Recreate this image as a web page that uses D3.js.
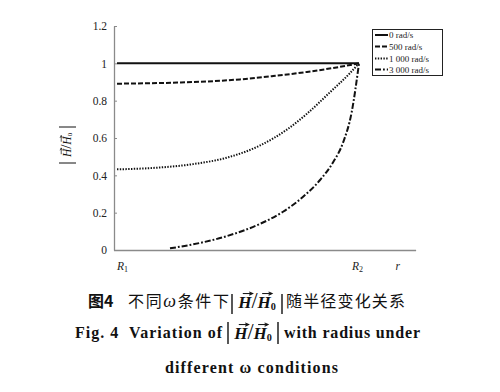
<!DOCTYPE html>
<html><head><meta charset="utf-8">
<script src="https://cdn.jsdelivr.net/npm/d3@7/dist/d3.min.js"></script>
<style>body{margin:0;background:#fff}svg{display:block}text{white-space:pre}</style>
</head><body>
<svg id="c" width="500" height="392"></svg>
<script>
// ---- data (r normalised: R1 = 0, R2 = 1) ----
const seriesNames = ["0 rad/s", "500 rad/s", "1 000 rad/s", "3 000 rad/s"];
const r0 = [0, 1];
const v0 = [1, 1];
const r500 = [0, 0.25, 0.508, 0.645, 0.785, 0.893, 1];
const v500 = [0.891, 0.897, 0.914, 0.932, 0.954, 0.975, 1];
const r1000 = [0, 0.178, 0.314, 0.455, 0.591, 0.702, 0.785, 0.88, 0.963, 1];
const v1000 = [0.432, 0.442, 0.46, 0.495, 0.56, 0.645, 0.73, 0.845, 0.948, 1];
const r3000 = [0.219, 0.314, 0.455, 0.591, 0.686, 0.769, 0.839, 0.893, 0.934, 0.97, 1];
const v3000 = [0.009, 0.03, 0.075, 0.14, 0.205, 0.285, 0.375, 0.47, 0.575, 0.74, 1];
const yTicks = [0, 0.2, 0.4, 0.6, 0.8, 1, 1.2];
const yTickLabels = ["0", "0.2", "0.4", "0.6", "0.8", "1", "1.2"];
const xLabels = [{v: 0, t: "R", s: "1"}, {v: 1, t: "R", s: "2"}, {v: 1.18, t: "r", s: ""}];

const svg = d3.select("#c");
const serif = "'Liberation Serif','DejaVu Serif',serif";
const cjk = "'Noto Sans CJK SC',sans-serif";

const x = d3.scaleLinear().domain([0, 1]).range([117, 359]);
const y = d3.scaleLinear().domain([0, 1.2]).range([250, 26]);

// axes
const yAxis = d3.axisLeft(y).tickValues(yTicks)
  .tickFormat((d, i) => yTickLabels[i]).tickSizeInner(-3).tickSizeOuter(0).tickPadding(7);
const gy = svg.append("g").attr("transform", "translate(114,0)").call(yAxis)
  .attr("font-family", serif).attr("font-size", 11.5);
gy.select(".domain").attr("stroke", "#8a8a8a").attr("stroke-width", 1.3);
gy.selectAll(".tick line").attr("stroke", "#8a8a8a");
gy.selectAll(".tick text").style("font-family", serif).attr("fill", "#222");

svg.append("line").attr("x1", 114).attr("x2", x(1.236)).attr("y1", 250.5).attr("y2", 250.5)
  .attr("stroke", "#8a8a8a").attr("stroke-width", 1.3);

xLabels.forEach(l => {
  const t = svg.append("text").attr("x", x(l.v) + (l.v === 0 ? 0 : -7)).attr("y", 270)
    .style("font-family", serif).attr("font-size", 11.5).attr("font-style", "italic").attr("fill", "#222");
  t.append("tspan").text(l.t);
  if (l.s) t.append("tspan").attr("font-size", 8).attr("font-style", "normal").attr("dy", 2).text(l.s);
});

// lines
const styles = [
  {dash: null, w: 2},
  {dash: "5,2", w: 2},
  {dash: "1.4,1.4", w: 2},
  {dash: "6,2,1.8,2", w: 2}
];
const data = [[r0, v0], [r500, v500], [r1000, v1000], [r3000, v3000]];
const line = d3.line().x(d => x(d[0])).y(d => y(d[1])).curve(d3.curveMonotoneX);
data.forEach((s, i) => {
  const pts = s[0].map((r, k) => [r, s[1][k]]);
  svg.append("path").attr("d", line(pts)).attr("fill", "none").attr("stroke", "#111")
    .attr("stroke-width", styles[i].w).attr("stroke-dasharray", styles[i].dash);
});

// legend
const lg = svg.append("g");
lg.append("rect").attr("x", 372.5).attr("y", 29.5).attr("width", 70).attr("height", 46)
  .attr("fill", "#fff").attr("stroke", "#222").attr("stroke-width", 1);
const rowsY = [35, 46.5, 58.5, 69.5];
seriesNames.forEach((n, i) => {
  lg.append("line").attr("x1", 375).attr("x2", 388).attr("y1", rowsY[i]).attr("y2", rowsY[i])
    .attr("stroke", "#111").attr("stroke-width", 2).attr("stroke-dasharray", styles[i].dash);
  lg.append("text").attr("x", 389).attr("y", rowsY[i] + 3).style("font-family", serif)
    .attr("font-size", 9).attr("fill", "#222").text(n);
});

// |H/H0| expression helper
function expr(g, xl, xr, base, fs, top, bot, weight) {
  const sw = fs > 12 ? 1.4 : 1;
  g.append("line").attr("x1", xl).attr("x2", xl).attr("y1", top).attr("y2", bot).attr("stroke", "#111").attr("stroke-width", sw);
  g.append("line").attr("x1", xr).attr("x2", xr).attr("y1", top).attr("y2", bot).attr("stroke", "#111").attr("stroke-width", sw);
  const t = g.append("text").attr("y", base).style("font-family", serif).attr("font-size", fs)
    .attr("font-weight", weight).attr("fill", "#111");
  const h1 = t.append("tspan").attr("font-style", "italic").text("H");
  t.append("tspan").attr("font-size", fs * 1.3).attr("font-weight", "normal").text("/");
  const h2 = t.append("tspan").attr("font-style", "italic").text("H");
  t.append("tspan").attr("font-size", fs * 0.6).attr("dy", fs * 0.12).text("0");
  const w = t.node().getComputedTextLength();
  const x0 = (xl + xr) / 2 - w / 2;
  t.attr("x", x0);
  [h1, h2].forEach(h => {
    const n = h.node();
    const start = n.getStartPositionOfChar(0).x;
    const end = n.getEndPositionOfChar(0).x;
    const ay = base - fs * 0.85;
    const ax1 = start + (end - start) * 0.35, ax2 = end + fs * 0.05;
    g.append("line").attr("x1", ax1).attr("x2", ax2).attr("y1", ay).attr("y2", ay)
      .attr("stroke", "#111").attr("stroke-width", fs * 0.06);
    g.append("path").attr("d", `M${ax2 - fs * 0.18},${ay - fs * 0.1}L${ax2 + fs * 0.03},${ay}L${ax2 - fs * 0.18},${ay + fs * 0.1}`)
      .attr("fill", "none").attr("stroke", "#111").attr("stroke-width", fs * 0.06);
  });
}

// y axis label (rotated)
const yl = svg.append("g").attr("transform", "translate(71,145) rotate(-90)");
expr(yl, -18, 18, 0, 11.5, -12, 5, "normal");

// captions
svg.append("text").attr("x", 88).attr("y", 307).style("font-family", cjk).attr("font-weight", "bold")
  .attr("font-size", 16).attr("fill", "#111").text("图4");
const c1 = svg.append("text").attr("x", 128).attr("y", 307).style("font-family", cjk)
  .attr("font-size", 16).attr("fill", "#111").attr("textLength", 101).attr("lengthAdjust", "spacing");
c1.append("tspan").text("不同");
c1.append("tspan").style("font-family", serif).attr("font-style", "italic").attr("font-size", 18).text("ω");
c1.append("tspan").text("条件下");
svg.append("text").attr("x", 286).attr("y", 307).style("font-family", cjk)
  .attr("font-size", 16).attr("fill", "#111").attr("textLength", 119).attr("lengthAdjust", "spacing").text("随半径变化关系");
expr(svg, 232, 282, 308, 17, 294, 314, "bold");

svg.append("text").attr("x", 75).attr("y", 338).style("font-family", serif).attr("font-weight", "bold")
  .attr("font-size", 16).attr("fill", "#111").attr("textLength", 147).attr("lengthAdjust", "spacing")
  .text("Fig. 4  Variation of");
expr(svg, 228, 278, 339, 17, 322, 344, "bold");
svg.append("text").attr("x", 284).attr("y", 338).style("font-family", serif).attr("font-weight", "bold")
  .attr("font-size", 16).attr("fill", "#111").attr("textLength", 136).attr("lengthAdjust", "spacing")
  .text("with radius under");
svg.append("text").attr("x", 165).attr("y", 373).style("font-family", serif).attr("font-weight", "bold")
  .attr("font-size", 16).attr("fill", "#111").attr("textLength", 173).attr("lengthAdjust", "spacing")
  .text("different ω conditions");
</script>
</body></html>
